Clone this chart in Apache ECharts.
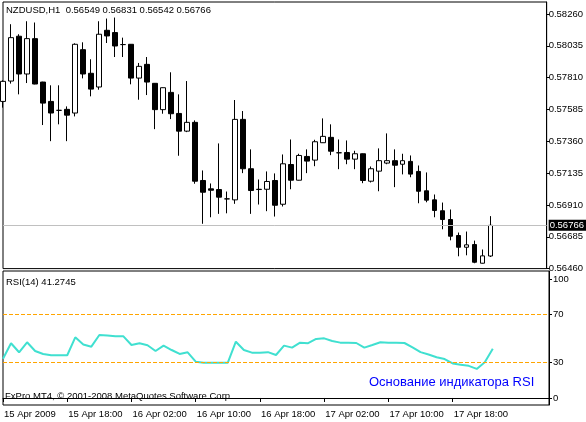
<!DOCTYPE html>
<html>
<head>
<meta charset="utf-8">
<script src="https://cdn.jsdelivr.net/npm/echarts@6/dist/echarts.min.js"></script>
<style>
  html, body { margin: 0; padding: 0; background: #fff; }
</style>
</head>
<body>
<div id="chart" style="width: 586px;height:422px;"></div>
<script>
// NZDUSD H1, 15 Apr 2009 10:00 .. 17 Apr 2009 23:00
var opens = [0.57642, 0.57786, 0.58103, 0.57836, 0.58086, 0.57779, 0.57642, 0.57579, 0.57586, 0.57560,
  0.58008, 0.57841, 0.57744, 0.58145, 0.58129, 0.58044, 0.58046, 0.57807, 0.57904, 0.57770,
  0.57584, 0.57706, 0.57557, 0.57432, 0.57494, 0.57083, 0.57024, 0.57019, 0.56953, 0.56946,
  0.57515, 0.57166, 0.57021, 0.57021, 0.57083, 0.56915, 0.57196, 0.57085, 0.57253, 0.57227,
  0.57350, 0.57388, 0.57279, 0.57281, 0.57234, 0.57272, 0.57078, 0.57149, 0.57206, 0.57223,
  0.57198, 0.57218, 0.57147, 0.57010, 0.56946, 0.56869, 0.56807, 0.56694, 0.56611, 0.56630,
  0.56498, 0.56549];
var closes = [0.57784, 0.58093, 0.57836, 0.58086, 0.57765, 0.57630, 0.57560, 0.57579, 0.57545, 0.58046,
  0.57836, 0.57729, 0.58117, 0.58105, 0.58034, 0.58044, 0.57807, 0.57890, 0.57779, 0.57584,
  0.57739, 0.57555, 0.57432, 0.57494, 0.57078, 0.57000, 0.57014, 0.56965, 0.56953, 0.57515,
  0.57166, 0.57012, 0.57019, 0.57076, 0.56908, 0.57201, 0.57085, 0.57260, 0.57220, 0.57357,
  0.57395, 0.57290, 0.57279, 0.57234, 0.57272, 0.57083, 0.57166, 0.57223, 0.57223, 0.57191,
  0.57223, 0.57128, 0.57007, 0.56944, 0.56871, 0.56807, 0.56689, 0.56611, 0.56628, 0.56505,
  0.56550, 0.56766];
var lows = [0.57598, 0.57768, 0.57692, 0.57772, 0.57763, 0.57475, 0.57361, 0.57480, 0.57361, 0.57536,
  0.57805, 0.57678, 0.57725, 0.58055, 0.57956, 0.57956, 0.57763, 0.57654, 0.57687, 0.57446,
  0.57555, 0.57517, 0.57258, 0.57425, 0.57060, 0.56777, 0.56823, 0.56847, 0.56851, 0.56918,
  0.57135, 0.56847, 0.56913, 0.56866, 0.56828, 0.56899, 0.57021, 0.57083, 0.57135, 0.57184,
  0.57348, 0.57262, 0.57163, 0.57198, 0.57163, 0.57064, 0.57069, 0.57007, 0.57198, 0.57036,
  0.57126, 0.57106, 0.56922, 0.56929, 0.56823, 0.56738, 0.56660, 0.56547, 0.56554, 0.56498,
  0.56496, 0.56542];
var highs = [0.57791, 0.58188, 0.58117, 0.58209, 0.58200, 0.57781, 0.57756, 0.57756, 0.57607, 0.58053,
  0.58060, 0.57940, 0.58209, 0.58228, 0.58235, 0.58093, 0.58048, 0.57914, 0.57956, 0.57772,
  0.57741, 0.57848, 0.57692, 0.57786, 0.57508, 0.57154, 0.57062, 0.57345, 0.57005, 0.57652,
  0.57574, 0.57303, 0.57090, 0.57147, 0.57133, 0.57267, 0.57373, 0.57272, 0.57303, 0.57371,
  0.57522, 0.57480, 0.57373, 0.57366, 0.57293, 0.57274, 0.57182, 0.57310, 0.57416, 0.57303,
  0.57272, 0.57260, 0.57189, 0.57140, 0.56984, 0.56927, 0.56878, 0.56715, 0.56722, 0.56658,
  0.56595, 0.56831];
var rsi = [33, 46, 38.4, 46.8, 39.5, 37, 35.9, 35.9, 35.9, 51,
  45, 43.1, 52.9, 52.5, 51.8, 51.8, 44.5, 46, 44.3, 39.5,
  44, 40.3, 37, 38.4, 30.5, 29.7, 29.7, 29.7, 29.7, 47.3,
  40.3, 38.1, 38.1, 38.5, 36.1, 44, 42.3, 46.5, 46, 49.6,
  50.1, 47.9, 46.5, 46.4, 46.2, 42.3, 44.5, 46.8, 46.5, 46.4,
  46.2, 42.5, 38.5, 36.5, 34.2, 32.7, 29, 28, 27, 24.4,
  30, 41.2745];
var timeLabels = ['15 Apr 2009', '15 Apr 18:00', '16 Apr 02:00', '16 Apr 10:00',
  '16 Apr 18:00', '17 Apr 02:00', '17 Apr 10:00', '17 Apr 18:00'];
var priceTicks = [0.56460, 0.56685, 0.56910, 0.57135, 0.57360, 0.57585, 0.57810, 0.58035, 0.58260];
var rsiTicks = [0, 30, 70, 100];
var rsiLevels = [30, 70];

// 62 bars plus empty space on the right (chart shift)
var slots = 69;
var categories = [];
for (var i = 0; i < slots; i++) {
  categories.push(i < opens.length ? 'bar' + i : '');
}
var candles = opens.map(function (o, i) {
  return [o, closes[i], lows[i], highs[i]];
});
var last = opens.length - 1;
var font = 'Liberation Sans, Arial, sans-serif';

var myChart = echarts.init(document.getElementById('chart'));
var option = {
  animation: false,
  backgroundColor: '#fff',
  textStyle: { fontFamily: font },
  title: [
    {
      text: 'NZDUSD,H1  ' + [opens[last], highs[last], lows[last], closes[last]].map(function (v) { return v.toFixed(5); }).join(' '),
      left: 6, top: 5, padding: 0,
      textStyle: { fontSize: 9.5, fontWeight: 'normal', color: '#000', fontFamily: font }
    },
    {
      text: 'RSI(14) ' + rsi[last].toFixed(4),
      left: 6, top: 277, padding: 0,
      textStyle: { fontSize: 9.5, fontWeight: 'normal', color: '#000', fontFamily: font }
    },
    {
      text: 'FxPro MT4, © 2001-2008 MetaQuotes Software Corp.',
      left: 5, top: 391, padding: 0,
      textStyle: { fontSize: 9.5, fontWeight: 'normal', color: '#000', fontFamily: font }
    },
    {
      text: 'Основание индикатора RSI',
      left: 369, top: 376, padding: 0,
      textStyle: { fontSize: 13, fontWeight: 'normal', color: '#0000ff', fontFamily: font }
    }
  ],
  grid: [
    { left: 3, right: 37, top: 2, height: 266.6, show: true, borderColor: '#000', borderWidth: 1 },
    { left: 3, right: 37, top: 271, height: 134, show: true, borderColor: '#000', borderWidth: 1 }
  ],
  xAxis: [
    {
      type: 'category', gridIndex: 0, data: categories, boundaryGap: false,
      show: false
    },
    {
      type: 'category', gridIndex: 1, data: categories, boundaryGap: false,
      axisLine: { lineStyle: { color: '#000', width: 1 } },
      axisTick: {
        length: 4, lineStyle: { color: '#000' },
        interval: function (idx, val) { return idx % 8 === 0 && val !== ''; }
      },
      axisLabel: {
        align: 'left', margin: 4, padding: [0, 0, 0, 1],
        fontSize: 9.5, color: '#000', fontFamily: font,
        interval: function (idx, val) { return idx % 8 === 0 && val !== ''; },
        formatter: function (val, idx) { return timeLabels[idx / 8] || ''; }
      },
      splitLine: { show: false }
    }
  ],
  yAxis: [
    {
      type: 'value', gridIndex: 0, position: 'right', scale: true,
      min: 0.56460, max: 0.58345,
      axisLine: { show: true, lineStyle: { color: '#000' } },
      axisTick: { show: true, length: 3, customValues: priceTicks, lineStyle: { color: '#000' } },
      axisLabel: {
        margin: 2, fontSize: 9.5, color: '#000', fontFamily: font,
        customValues: priceTicks,
        formatter: function (v) { return v.toFixed(5); }
      },
      splitLine: { show: false }
    },
    {
      type: 'value', gridIndex: 1, position: 'right',
      min: -5.9, max: 106.7,
      axisLine: { show: true, lineStyle: { color: '#000' } },
      axisTick: { show: true, length: 3, customValues: rsiTicks, lineStyle: { color: '#000' } },
      axisLabel: {
        margin: 4, fontSize: 9.5, color: '#000', fontFamily: font,
        customValues: rsiTicks
      },
      splitLine: { show: false }
    }
  ],
  series: [
    {
      name: 'NZDUSD',
      type: 'candlestick',
      xAxisIndex: 0, yAxisIndex: 0,
      barWidth: 5,
      data: candles,
      itemStyle: {
        color: '#fff', color0: '#000',
        borderColor: '#000', borderColor0: '#000', borderColorDoji: '#000',
        borderWidth: 1
      },
      markLine: {
        silent: true, symbol: 'none', precision: 5,
        lineStyle: { color: '#c0c0c0', type: 'solid', width: 1 },
        label: {
          show: true, position: 'end', distance: 2,
          backgroundColor: '#000', color: '#fff', padding: [1, 2, 0, 1],
          fontSize: 9.5, fontFamily: font,
          formatter: function (p) { return p.value.toFixed(5); }
        },
        data: [{ yAxis: closes[last] }]
      }
    },
    {
      name: 'RSI(14)',
      type: 'line',
      xAxisIndex: 1, yAxisIndex: 1,
      data: rsi,
      showSymbol: false,
      lineStyle: { color: '#40e0d0', width: 2 },
      markLine: {
        silent: true, symbol: 'none',
        label: { show: false },
        lineStyle: { color: '#ffa500', type: [4, 2], width: 1 },
        data: rsiLevels.map(function (v) { return { yAxis: v }; })
      }
    }
  ]
};
myChart.setOption(option);
</script>
</body>
</html>
